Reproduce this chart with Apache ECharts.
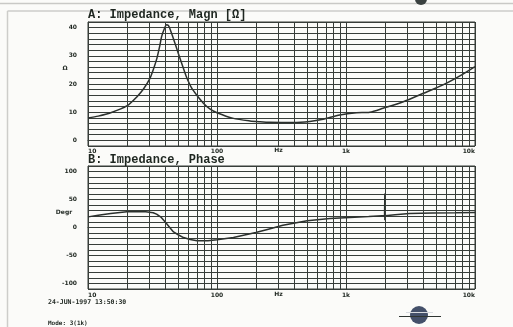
<!DOCTYPE html>
<html><head><meta charset="utf-8">
<script src="https://cdn.jsdelivr.net/npm/echarts@6/dist/echarts.min.js"></script>
<style>html,body{margin:0;padding:0;background:#fbfbf9}#c{width:513px;height:327px}</style>
</head><body><div id="c"></div><script>
// ---- data ----
const magFreq = [10,12,15,20,24,27,30,32,34.2,36,37.2,39,40.7,42,43,45,47.2,50,54.3,58,63.7,70,78.4,88,100,134,180,216,256,390,524,664,894,1205,1530,1940,2780,3980,5650,7640,10000];
const magOhm  = [7.9,8.6,9.8,12.2,15.5,18.3,21.7,25,29.1,33.5,36.8,39.5,41.0,40.8,39.8,37.3,34.5,31,26.2,22.5,18.5,15.9,13.2,11.2,9.8,7.8,6.9,6.6,6.4,6.3,6.7,7.5,9.0,9.8,10.0,11.4,13.7,16.7,19.7,22.9,26.2];
const phaseFreq = [10,12,15,20,28,32,34,37,40,43,46,50,55,62,70,85,100,134,200,250,324,500,750,1070,1500,1900,1990,2000,2000,2010,2400,3100,4700,7000,10000];
const phaseDeg  = [19,22,25,28,28,26.5,24,18,9,0,-8,-13,-18,-21.5,-23.5,-23.5,-22,-18,-9,-3,4,12,16,18,19.5,21,21,61,13,21,23,25,26,26.5,27];
const minorFreqs = [20,30,40,50,60,70,80,90,200,300,400,500,600,700,800,900,2000,3000,4000,5000,6000,7000,8000,9000];
const xTickText = {10:'10',100:'100',1000:'1k',10000:'10k'};
const unitFreq = 300;
const magTicks = [0,10,20,30,40];
const phaseTicks = [-100,-50,0,50,100];
const titleA = 'A: Impedance, Magn [Ω]';
const titleB = 'B: Impedance, Phase';
const stamp = '24-JUN-1997 13:50:30';
const modeText = 'Mode: 3(1k)';

// ---- style ----
const GRID = '#373d39';
const CURVE = '#2b302d';
const TXT = '#1e2620';
const tickFont = {fontSize:6, fontWeight:'bold', color:TXT, fontFamily:'DejaVu Sans'};

const chart = echarts.init(document.getElementById('c'), null, {renderer:'canvas'});
const grids = [
  {left:88, top:22, width:387, height:124},
  {left:88, top:166, width:387, height:123}
];
function xAxis(i, margin){
  return {type:'log', logBase:10, min:10, max:10000, gridIndex:i,
    axisLine:{show:true, lineStyle:{color:GRID, width:1}},
    axisTick:{show:false}, minorTick:{show:false},
    splitLine:{show:true, lineStyle:{color:GRID, width:1}},
    axisLabel:Object.assign({margin:margin, alignMinLabel:'left', alignMaxLabel:'right',
      showMinLabel:true, showMaxLabel:true,
      formatter:v=>xTickText[Math.round(v)]||''}, tickFont)};
}
function yAxis(i, min, max, step, labels){
  return {type:'value', gridIndex:i, min:min, max:max, interval:step,
    axisLine:{show:true, lineStyle:{color:GRID, width:1}},
    axisTick:{show:false},
    splitLine:{show:true, lineStyle:{color:GRID, width:1}},
    axisLabel:Object.assign({margin:11, formatter:v=>labels.includes(v)?String(v):''}, tickFont)};
}
const minorLines = {silent:true, symbol:['none','none'], animation:false,
  label:{show:false}, lineStyle:{color:GRID, width:1, type:'solid'},
  emphasis:{disabled:true},
  data: minorFreqs.map(f=>({xAxis:f}))};

chart.setOption({
  animation:false,
  backgroundColor:'#fbfbf9',
  grid: grids.map(g=>Object.assign({show:true, borderColor:GRID, borderWidth:1, backgroundColor:'transparent'}, g)),
  xAxis:[xAxis(0,2), xAxis(1,3)],
  yAxis:[yAxis(0,-2,42,2,magTicks), yAxis(1,-110,110,10,phaseTicks)],
  series:[
    {type:'line', xAxisIndex:0, yAxisIndex:0, showSymbol:false, smooth:0.25,
     lineStyle:{color:CURVE, width:1.5}, data: magFreq.map((f,i)=>[f, magOhm[i]]),
     markLine: minorLines, z:3},
    {type:'line', xAxisIndex:1, yAxisIndex:1, showSymbol:false, smooth:false,
     lineStyle:{color:CURVE, width:1.5}, data: phaseFreq.map((f,i)=>[f, phaseDeg[i]]),
     markLine: minorLines, z:3}
  ]
});

const hzX0 = chart.convertToPixel({xAxisIndex:0}, unitFreq);
const hzX1 = chart.convertToPixel({xAxisIndex:1}, unitFreq);
const labelTextStyle = (t,x,y,align)=>({type:'text', x:x, y:y, style:{text:t, fill:TXT,
  font:'bold 6px "DejaVu Sans"', textAlign:align||'center', textVerticalAlign:'middle'}});

chart.setOption({graphic:[
  // page frame
  {type:'line', shape:{x1:0,y1:3.5,x2:513,y2:3.5}, style:{stroke:'#c9c9c6', lineWidth:1.5}, silent:true},
  {type:'line', shape:{x1:7.5,y1:11,x2:513,y2:11}, style:{stroke:'#cdcdca', lineWidth:1.5}, silent:true},
  {type:'line', shape:{x1:7.5,y1:11,x2:7.5,y2:327}, style:{stroke:'#cdcdca', lineWidth:1.5}, silent:true},
  // logos
  {type:'circle', shape:{cx:421, cy:-1, r:6}, style:{fill:'#3a4140'}, silent:true},
  {type:'circle', shape:{cx:419, cy:315, r:9}, style:{fill:'#44506a'}, silent:true},
  {type:'line', shape:{x1:399,y1:316.5,x2:441,y2:316.5}, style:{stroke:'#2f3532', lineWidth:1.2}, silent:true},
  {type:'line', shape:{x1:406,y1:312.5,x2:433,y2:312.5}, style:{stroke:'#d8dbe0', lineWidth:1}, silent:true},
  // titles
  {type:'text', x:88, y:15, style:{text:titleA, fill:TXT, font:'bold 12px "Liberation Mono"', textVerticalAlign:'middle'}},
  {type:'text', x:88, y:160, style:{text:titleB, fill:TXT, font:'bold 12px "Liberation Mono"', textVerticalAlign:'middle'}},
  // axis units
  labelTextStyle('Ω', 65, 68, 'center'),
  labelTextStyle('Degr', 64, 212, 'center'),
  labelTextStyle('Hz', hzX0, 150, 'center'),
  labelTextStyle('Hz', hzX1, 294, 'center'),
  // footer
  {type:'text', x:48, y:302, style:{text:stamp, fill:TXT, font:'bold 6.5px "DejaVu Sans Mono"', textVerticalAlign:'middle'}},
  {type:'text', x:48, y:323, style:{text:modeText, fill:TXT, font:'bold 6px "DejaVu Sans Mono"', textVerticalAlign:'middle'}}
]});
</script></body></html>
